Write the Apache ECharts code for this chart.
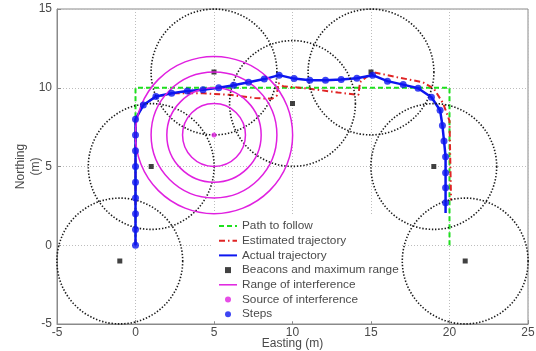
<!DOCTYPE html>
<html><head><meta charset="utf-8">
<script src="https://cdn.jsdelivr.net/npm/echarts@6/dist/echarts.min.js"></script>
<style>html,body{margin:0;padding:0;background:#fff}#c{width:536px;height:351px}</style>
</head><body><div id="c"></div>
<script>
// Path to follow
const pathX = [0, 0, 20, 20];
const pathY = [0, 10, 10, 0];
// Estimated trajectory
const estX = [0, 0, 0.5, 1.3, 2.5, 4.3, 6.0, 7.6, 8.7, 9.0, 9.1, 9.4, 11.0, 12.9, 14.2, 14.3, 15.1, 16.5, 18.3, 19.0, 19.6, 20.0, 20.1];
const estY = [0, 8, 8.9, 9.45, 9.65, 9.65, 9.55, 9.35, 9.3, 9.5, 10.3, 10.1, 9.95, 9.7, 9.55, 10.35, 11.0, 10.7, 10.35, 9.95, 9.0, 7.9, 2.85];
// Actual trajectory
const actX = [0, 0, 0, 0, 0, 0, 0, 0, 0, 0.5, 1.3, 2.3, 3.3, 4.3, 5.3, 6.25, 7.2, 8.2, 9.15, 10.1, 11.1, 12.1, 13.1, 14.1, 15.1, 16.05, 17.05, 18.0, 18.85, 19.4, 19.55, 19.65, 19.75, 19.75, 19.75, 19.75, 19.75];
const actY = [0, 1, 2, 3, 4, 5, 6, 7, 8, 8.9, 9.45, 9.65, 9.8, 9.87, 10.0, 10.16, 10.35, 10.55, 10.8, 10.58, 10.48, 10.48, 10.52, 10.6, 10.8, 10.42, 10.2, 9.97, 9.4, 8.57, 7.6, 6.62, 5.62, 4.6, 3.65, 2.7, 2.05];
// Steps (markers on the actual trajectory)
const stepsX = actX.slice(0, 36);
const stepsY = actY.slice(0, 36);
// Beacons and maximum range
const beaconX = [-1, 1, 5, 10, 15, 19, 21];
const beaconY = [-1, 5, 11, 9, 11, 5, -1];
const beaconRange = [4, 4, 4, 4, 4, 4, 4];
// Interference
const sourceX = [5];
const sourceY = [7];
const interferenceRadii = [2, 3, 4, 5];

const xTicks = [-5, 0, 5, 10, 15, 20, 25];
const yTicks = [-5, 0, 5, 10, 15];

const FONT = '"Liberation Sans", Arial, Helvetica, sans-serif';
const TXT = '#4a4a4a';
const zip = (a, b) => a.map((v, i) => [v, b[i]]);

function circleRenderer(stroke, width, dash) {
  return function (params, api) {
    const c = api.coord([api.value(0), api.value(1)]);
    const s = api.size([api.value(2), api.value(2)]);
    return {
      type: 'circle',
      shape: { cx: c[0], cy: c[1], r: (s[0] + s[1]) / 2 },
      style: { fill: null, stroke: stroke, lineWidth: width, lineDash: dash }
    };
  };
}

const noMarker = { color: 'rgba(0,0,0,0)', borderColor: 'rgba(0,0,0,0)', borderWidth: 0 };

const chart = echarts.init(document.getElementById('c'), null, { renderer: 'canvas' });
const axisCommon = {
  type: 'value',
  interval: 5,
  axisLine: { show: true, onZero: false, lineStyle: { color: '#8a8a8a', width: 1 } },
  axisTick: { show: true, inside: true, length: 4, lineStyle: { color: '#8a8a8a' } },
  splitLine: { show: true, lineStyle: { color: '#bdbdbd', type: [1, 2], width: 1 } },
  nameLocation: 'middle',
  nameMoveOverlap: false,
  nameTextStyle: { fontFamily: FONT, fontSize: 12, color: TXT, lineHeight: 15 }
};
chart.setOption({
  animation: false,
  backgroundColor: '#fff',
  grid: { left: 57, right: 8, top: 9, bottom: 27, containLabel: false, outerBoundsMode: 'none', show: true, borderColor: '#8a8a8a', borderWidth: 1, backgroundColor: 'transparent' },
  xAxis: Object.assign({}, axisCommon, {
    min: xTicks[0], max: xTicks[xTicks.length - 1],
    name: 'Easting (m)', nameGap: 12,
    axisLabel: { fontFamily: FONT, fontSize: 12, color: TXT, margin: 3 }
  }),
  yAxis: Object.assign({}, axisCommon, {
    min: yTicks[0], max: yTicks[yTicks.length - 1],
    name: 'Northing\n(m)', nameGap: 14,
    axisLabel: { fontFamily: FONT, fontSize: 12, color: TXT, margin: 5 }
  }),
  legend: {
    orient: 'vertical', left: 212, top: 216,
    backgroundColor: '#fff', padding: [4, 3, 1, 6],
    itemWidth: 18, itemHeight: 6, itemGap: 2.7, itemTextGap: 2,
    textStyle: { fontFamily: FONT, fontSize: 11.8, color: TXT },
    data: [
      { name: 'Path to follow', itemStyle: noMarker },
      { name: 'Estimated trajectory', itemStyle: noMarker },
      { name: 'Actual trajectory', itemStyle: noMarker },
      { name: 'Beacons and maximum range', icon: 'path://M0,0L5,0L5,5L0,5Z' },
      { name: 'Range of interference', icon: 'path://M0,0L18,0L18,1.5L0,1.5Z' },
      { name: 'Source of interference', icon: 'circle' },
      { name: 'Steps', icon: 'circle' }
    ]
  },
  series: [
    {
      name: 'Path to follow', type: 'line', data: zip(pathX, pathY), symbol: 'none',
      lineStyle: { color: '#1ee01e', width: 2, type: [5, 3] }, itemStyle: { color: '#1ee01e' }, z: 2
    },
    {
      name: 'Estimated trajectory', type: 'line', data: zip(estX, estY), symbol: 'none',
      lineStyle: { color: '#e02424', width: 2, type: [6, 3, 1.5, 3] }, itemStyle: { color: '#e02424' }, z: 3
    },
    {
      name: 'Actual trajectory', type: 'line', data: zip(actX, actY), symbol: 'none',
      lineStyle: { color: '#0d16f0', width: 2.5 }, itemStyle: { color: '#0d16f0' }, z: 4
    },
    {
      name: 'Beacons and maximum range', type: 'scatter', data: zip(beaconX, beaconY),
      symbol: 'rect', symbolSize: 5, itemStyle: { color: '#111' }, z: 5
    },
    {
      name: 'Beacon circles', type: 'custom', silent: true, clip: false,
      data: beaconX.map((x, i) => [x, beaconY[i], beaconRange[i]]),
      encode: { x: 0, y: 1 },
      renderItem: circleRenderer('#1a1a1a', 1.6, [1.4, 1.8]), z: 5
    },
    {
      name: 'Range of interference', type: 'custom', silent: true, clip: false,
      data: interferenceRadii.map(r => [sourceX[0], sourceY[0], r]),
      encode: { x: 0, y: 1 },
      itemStyle: { color: '#e020e0' },
      renderItem: circleRenderer('#e020e0', 1.5, null), z: 6
    },
    {
      name: 'Source of interference', type: 'scatter', data: zip(sourceX, sourceY),
      symbol: 'circle', symbolSize: 5, itemStyle: { color: '#e020e0' }, z: 7
    },
    {
      name: 'Steps', type: 'scatter', data: zip(stepsX, stepsY),
      symbol: 'circle', symbolSize: 7, itemStyle: { color: '#0d16f0' }, z: 8
    }
  ]
});
</script>
</body></html>
